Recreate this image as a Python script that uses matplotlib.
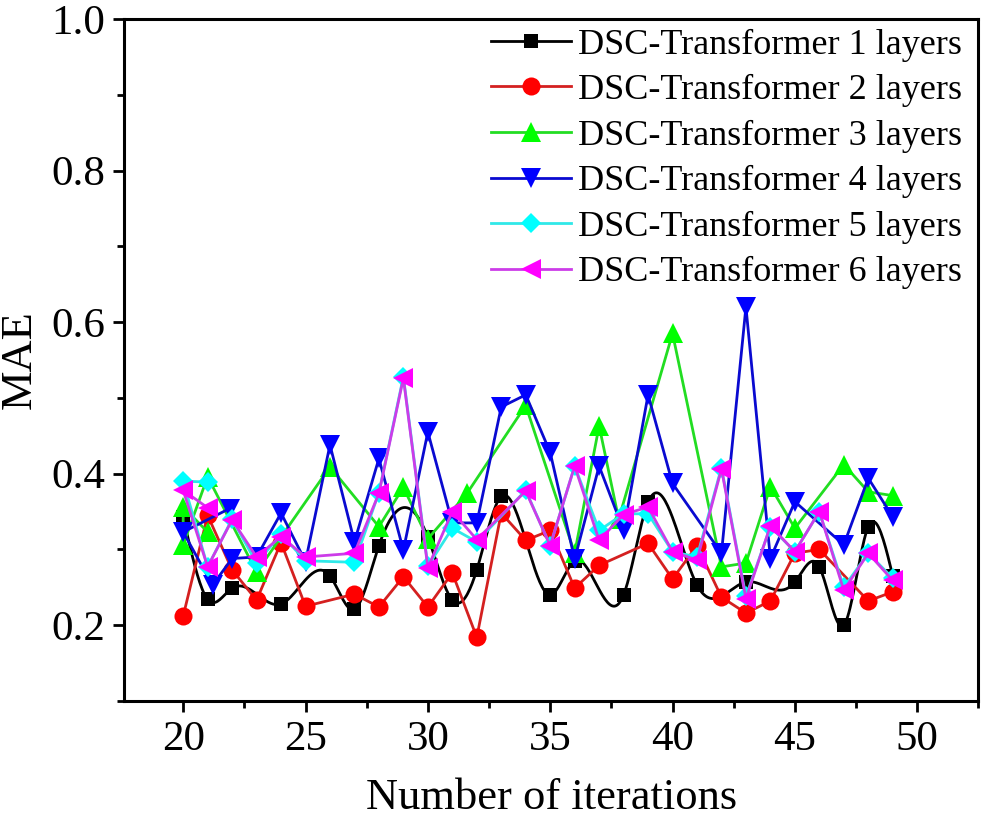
import numpy as np
import matplotlib
matplotlib.use("Agg")
import matplotlib.pyplot as plt
from matplotlib.ticker import MultipleLocator

plt.rcParams["font.family"] = ["Liberation Serif", "DejaVu Serif"]

labels = [f"DSC-Transformer {n} layers" for n in range(1, 7)]

# 1 layer (drawn as a smooth spline through the points)
x1 = [20, 21, 22, 24, 26, 27, 28, 30, 31, 32, 33, 35, 36, 38, 39, 41, 43, 45, 46, 47, 48, 49]
y1 = [0.343, 0.234, 0.249, 0.228, 0.265, 0.221, 0.305, 0.316, 0.233, 0.273, 0.370,
      0.240, 0.285, 0.240, 0.362, 0.253, 0.257, 0.257, 0.277, 0.200, 0.330, 0.265]

# 2 layers
x2 = [20, 21, 22, 23, 24, 25, 27, 28, 29, 30, 31, 32, 33, 34, 35, 36, 37, 39, 40, 41,
      42, 43, 44, 45, 46, 48, 49]
y2 = [0.212, 0.345, 0.273, 0.233, 0.309, 0.225, 0.241, 0.224, 0.264, 0.224, 0.269,
      0.184, 0.348, 0.312, 0.325, 0.249, 0.279, 0.308, 0.261, 0.305, 0.237, 0.216,
      0.232, 0.295, 0.300, 0.232, 0.244]

# 3 layers
x3 = [21, 20, 20, 21, 23, 26, 28, 29, 30, 31.6, 34, 36, 37, 37.8, 40, 42, 43, 44, 45,
      47, 48, 49]
y3 = [0.323, 0.356, 0.306, 0.396, 0.270, 0.409, 0.330, 0.382, 0.314, 0.374, 0.490,
      0.295, 0.463, 0.340, 0.585, 0.277, 0.282, 0.383, 0.328, 0.412, 0.376, 0.371]

# 4 layers
x4 = [21.9, 20, 21.2, 22, 23, 24, 25, 26, 27, 28, 29, 30, 31, 32, 33, 34, 35, 36, 37,
      38, 39, 40, 42, 43, 44, 45, 47, 48, 49]
y4 = [0.354, 0.323, 0.253, 0.288, 0.290, 0.348, 0.284, 0.438, 0.310, 0.420, 0.299,
      0.455, 0.335, 0.335, 0.488, 0.504, 0.428, 0.287, 0.410, 0.325, 0.504, 0.387,
      0.295, 0.620, 0.288, 0.363, 0.306, 0.394, 0.343]

# 5 layers
x5 = [21, 20, 21, 22, 23, 24, 25, 27, 28, 29, 30, 31, 32, 34, 35, 36, 37, 38, 39, 40,
      41, 42, 43, 44, 45, 46, 47, 48, 49]
y5 = [0.389, 0.390, 0.277, 0.340, 0.282, 0.320, 0.285, 0.283, 0.375, 0.528, 0.278,
      0.328, 0.310, 0.378, 0.305, 0.410, 0.325, 0.347, 0.347, 0.297, 0.290, 0.408,
      0.238, 0.330, 0.297, 0.350, 0.250, 0.295, 0.262]

# 6 layers
x6 = [21, 20, 21, 22, 23, 24, 25, 27, 28, 29, 30, 31, 32, 34, 35, 36, 37, 38, 39, 40,
      41, 42, 43, 44, 45, 46, 47, 48, 49]
y6 = [0.355, 0.378, 0.277, 0.339, 0.290, 0.317, 0.290, 0.295, 0.374, 0.526, 0.276,
      0.350, 0.313, 0.377, 0.305, 0.410, 0.312, 0.346, 0.356, 0.297, 0.286, 0.406,
      0.235, 0.331, 0.297, 0.350, 0.246, 0.295, 0.259]


def natural_spline(x, y, n=600):
    x = np.asarray(x, float)
    y = np.asarray(y, float)
    k = len(x)
    h = np.diff(x)
    A = np.zeros((k, k))
    b = np.zeros(k)
    A[0, 0] = A[-1, -1] = 1.0
    for i in range(1, k - 1):
        A[i, i - 1] = h[i - 1]
        A[i, i] = 2 * (h[i - 1] + h[i])
        A[i, i + 1] = h[i]
        b[i] = 6 * ((y[i + 1] - y[i]) / h[i] - (y[i] - y[i - 1]) / h[i - 1])
    m = np.linalg.solve(A, b)
    xs = np.linspace(x[0], x[-1], n)
    idx = np.clip(np.searchsorted(x, xs) - 1, 0, k - 2)
    t0 = x[idx]
    t1 = x[idx + 1]
    hi = h[idx]
    ys = (m[idx] * (t1 - xs) ** 3 / (6 * hi) + m[idx + 1] * (xs - t0) ** 3 / (6 * hi)
          + (y[idx] / hi - m[idx] * hi / 6) * (t1 - xs)
          + (y[idx + 1] / hi - m[idx + 1] * hi / 6) * (xs - t0))
    return xs, ys


fig = plt.figure(figsize=(9.83, 8.33), dpi=100)
ax = fig.add_axes([0.1266, 0.1585, 0.8687, 0.8187])

lw = 2.0
xs, ys = natural_spline(x1, y1)
ax.plot(xs, ys, color="black", lw=lw)
ax.plot(x1, y1, ls="none", marker="s", ms=10.5, color="black", mew=0)
ax.plot([], [], color="black", lw=lw, marker="s", ms=10.5, mew=0, label=labels[0])

ax.plot(x2, y2, color="#d42020", lw=lw, marker="o", ms=13,
        mfc="#ff0000", mec="#ff0000", mew=0, label=labels[1])
ax.plot(x3, y3, color="#22dd22", lw=lw, marker="^", ms=15,
        mfc="#00ff00", mec="#00ff00", mew=0, label=labels[2])
ax.plot(x4, y4, color="#0a0ad0", lw=lw, marker="v", ms=15,
        mfc="#0000ff", mec="#0000ff", mew=0, label=labels[3])
ax.plot(x5, y5, color="#30e8e8", lw=lw, marker="D", ms=10.5,
        mfc="#00ffff", mec="#00ffff", mew=0, label=labels[4])
ax.plot(x6, y6, color="#cc3ce8", lw=lw, marker="<", ms=15,
        mfc="#ff00ff", mec="#ff00ff", mew=0, label=labels[5])

ax.set_xlim(17.6, 52.5)
ax.set_ylim(0.1, 1.0)
ax.xaxis.set_major_locator(MultipleLocator(5))
ax.xaxis.set_minor_locator(MultipleLocator(2.5))
ax.yaxis.set_minor_locator(MultipleLocator(0.1))
ax.set_yticks([0.2, 0.4, 0.6, 0.8, 1.0])
ax.yaxis.set_major_formatter(plt.FuncFormatter(lambda v, p: f"{v:.1f}"))

for s in ax.spines.values():
    s.set_linewidth(2.2)
ax.tick_params(which="both", direction="out", top=False, right=False, width=2.0)
ax.tick_params(which="major", length=8, labelsize=31, pad=6)
ax.tick_params(which="minor", length=5)

ax.set_xlabel("Number of iterations", fontsize=32, labelpad=14)
ax.set_ylabel("MAE", fontsize=32, labelpad=8)

ax.legend(loc="upper right", bbox_to_anchor=(0.989, 0.997), frameon=False,
          fontsize=26, handlelength=2.2, handletextpad=0.2, labelspacing=0.34,
          borderaxespad=0.0, borderpad=0.2)

fig.savefig("out.png", dpi=100)
